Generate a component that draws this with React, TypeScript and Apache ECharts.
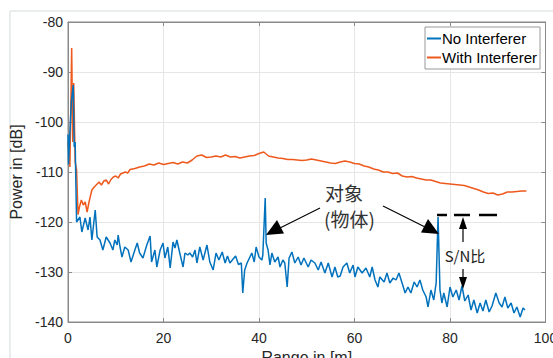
import React, { useEffect, useRef } from "react";
import * as echarts from "echarts";

const seriesNames = ["No Interferer", "With Interferer"];
const xTicks = [0, 20, 40, 60, 80, 100];
const yTicks = [-140, -130, -120, -110, -100, -90, -80];

const blueRange = [0, 0.1, 0.4, 0.7, 1.1, 1.3, 1.5, 1.7, 1.8, 2.5, 2.9, 3.6, 4.2, 4.6, 5.0, 5.7, 6.1, 6.7, 7.3, 8.0, 8.8, 9.4, 9.8, 10.3, 10.5, 10.9, 11.3, 11.9, 12.6, 13.2, 14, 14.5, 15, 15.7, 16.5, 17.2, 17.5, 18.2, 18.6, 19.3, 19.9, 20.3, 20.9, 21.4, 22, 22.4, 22.8, 23.5, 24.1, 24.5, 25.1, 25.5, 26.1, 26.6, 27, 27.6, 28.3, 29.1, 29.7, 30.4, 31, 31.6, 32.3, 32.9, 33.4, 33.9, 34.5, 35.1, 35.7, 36.3, 36.6, 37, 37.5, 38, 38.5, 39, 39.4, 40, 40.6, 40.8, 41.3, 41.5, 41.9, 42.3, 42.7, 43.3, 44, 44.4, 45, 45.4, 45.9, 46.3, 46.9, 47.5, 48.2, 48.8, 49.4, 50.3, 50.9, 51.7, 52.4, 53, 53.8, 54.5, 55.3, 55.9, 56.5, 57, 57.6, 58.4, 59, 59.7, 60.1, 60.7, 61.6, 62.4, 63.2, 63.7, 64.3, 64.9, 65.3, 66.2, 66.8, 67.4, 68.1, 68.7, 69.3, 69.9, 70.6, 71.2, 71.8, 72.5, 73.1, 73.7, 74.3, 75, 75.4, 76, 76.6, 77.1, 77.5, 77.9, 78.3, 78.7, 79.4, 80, 80.6, 81.3, 81.9, 82.5, 83.1, 83.8, 84.4, 85, 85.7, 86.3, 86.9, 87.5, 88.2, 88.8, 89.6, 90.3, 90.9, 91.5, 92.1, 92.8, 93.4, 94, 94.7, 95.3, 95.7];
const bluePower = [-102.5, -108.5, -102, -96, -92.6, -105, -104, -115, -120, -119, -122, -119.2, -121.6, -119, -123.6, -117.6, -123, -123.6, -125.6, -123, -124.2, -125.6, -123.6, -124.6, -122.6, -125, -127, -125, -125.6, -128, -125.6, -124.2, -126.2, -127.2, -124.6, -122.8, -128, -125.6, -129, -125.6, -124.2, -127.2, -125, -129.2, -124, -125.2, -123.6, -126.6, -129, -126.2, -126.6, -126.2, -127, -125.6, -128.2, -125, -127.6, -124.6, -128, -129.6, -126.2, -127.6, -126, -128.2, -126.8, -128.2, -127.5, -126.8, -128.5, -128.2, -134.2, -129.6, -128.2, -127.2, -126.2, -128, -125, -127, -127.6, -126.6, -115.2, -124.2, -125.6, -128.6, -126.2, -128, -127, -129, -127.6, -128.2, -133, -127.2, -126, -128.2, -127, -128.6, -127.2, -129, -127.6, -128.2, -129.6, -128, -130.2, -128.2, -131, -129, -131, -130.8, -129, -128.2, -130.2, -128.6, -131, -129, -130.2, -129.2, -131, -129, -131.6, -133, -131, -132, -130.2, -132.2, -131.2, -131.6, -130.2, -132, -134.2, -133, -134.2, -132, -133, -131.6, -133.6, -135, -137, -133.6, -135.6, -132.2, -119, -133.6, -136.2, -134.2, -137, -133, -135, -133.6, -135.6, -132.8, -135.8, -134.6, -137.6, -135.6, -138.2, -136.2, -137.8, -135.6, -138, -136.8, -134.2, -136.2, -137, -135, -137.2, -136.2, -138.2, -137, -139, -137.2, -137.6];

const orangeRange = [0, 0.4, 0.77, 1.0, 1.2, 1.5, 1.8, 2.1, 2.4, 2.8, 3.2, 3.6, 4.0, 4.4, 5.0, 5.5, 6.0, 6.5, 7.0, 7.5, 8.0, 8.5, 9.0, 9.5, 10.0, 10.5, 11.0, 12.0, 12.5, 13.0, 14, 15, 16, 17, 18, 19, 20, 21, 22, 23, 24, 25, 26, 27, 28, 29, 30, 31, 32, 33, 34, 35, 36, 37, 38, 39, 40, 41, 41.5, 42, 43, 44, 45, 46, 47, 48, 49, 50, 51, 52, 53, 54, 55, 56, 57, 58, 59, 60, 61, 62, 63, 64, 65, 66, 67, 68, 69, 70, 71, 72, 73, 74, 75, 76, 77, 78, 79, 80, 81, 82, 83, 84, 85, 86, 87, 88, 89, 90, 91, 92, 93, 94, 95, 96];
const orangePower = [-104, -109, -85.2, -104, -92.2, -108, -109.6, -118.5, -117, -115.6, -116.6, -116, -118, -116, -113.6, -113, -112.5, -112, -112.6, -111.8, -111.6, -112.4, -111.5, -111, -110.8, -111.2, -110.4, -110, -110.2, -109.5, -109.3, -109, -108.8, -108.4, -108.6, -108.2, -108.5, -108.3, -108.1, -108.4, -108, -108.2, -107.6, -106.8, -106.6, -107.1, -107, -106.8, -107, -106.6, -107, -106.9, -107.2, -107, -106.8, -106.7, -106.3, -106, -106.4, -106.8, -107, -107.2, -107.3, -107.5, -107.5, -107.6, -107.7, -107.6, -107.4, -107.6, -107.8, -108, -108.2, -108.3, -108, -107.8, -108, -108.3, -108.4, -108.8, -109, -109.4, -109.6, -110, -110, -110.3, -110.2, -110.8, -111, -110.9, -111.2, -111.4, -111.6, -111.6, -111.9, -112.2, -112.3, -112.4, -112.5, -112.6, -112.7, -113, -113.3, -113.6, -114, -114.3, -114.2, -114.6, -114.4, -114, -114, -113.9, -113.8, -113.8];

const objectLabel = "对象";
const objectLabel2 = "(物体)";
const snLabel = "S/N比";

const FONT = "'Liberation Sans', Arial, 'Noto Sans CJK SC', sans-serif";
const CJK = "'Noto Sans CJK SC', 'Liberation Sans', sans-serif";
const BLUE = "#0072BD";
const ORANGE = "#EE5A1E";
const AXIS = "#8a8a8a";

export default function App() {
  const ref = useRef<HTMLDivElement>(null);
  useEffect(() => {
    if (!ref.current) return;
    const chart = echarts.init(ref.current, undefined, { renderer: "svg" });
    const zip = (xs: number[], ys: number[]) => xs.map((x, i) => [x, ys[i]]);
    const axisBase = {
      type: "value" as const,
      min: xTicks[0],
      max: xTicks[xTicks.length - 1],
      interval: 20,
    };
    const black = "#000";
    chart.setOption({
      animation: false,
      backgroundColor: "#fff",
      textStyle: { fontFamily: FONT },
      grid: {
        left: 68,
        right: 7.5,
        top: 22,
        bottom: 36,
        outerBoundsMode: "none",
        containLabel: false,
        show: true,
        borderColor: AXIS,
        borderWidth: 1,
        backgroundColor: "transparent",
      },
      legend: {
        data: seriesNames,
        orient: "vertical",
        left: 425,
        top: 27,
        itemWidth: 14,
        itemHeight: 2,
        itemGap: 0,
        icon: "rect",
        padding: [2, 3, 2, 2],
        borderColor: "#999",
        borderWidth: 1,
        backgroundColor: "#fff",
        textStyle: { fontSize: 15, color: "#000", fontFamily: FONT, lineHeight: 19, padding: [0, 0, 0, -4] },
      },
      xAxis: [
        {
          ...axisBase,
          position: "bottom",
          name: "Range in [m]",
          nameLocation: "middle",
          nameGap: 24,
          nameTextStyle: { fontSize: 16, color: "#262626", fontFamily: FONT },
          axisLine: { show: true, onZero: false, lineStyle: { color: AXIS } },
          axisTick: { show: true, inside: true, length: 4, lineStyle: { color: AXIS } },
          axisLabel: { fontSize: 14, color: "#262626", margin: 9, fontFamily: FONT },
          splitLine: { show: true, lineStyle: { color: "#e6e6e6", width: 1 } },
        },
        {
          ...axisBase,
          position: "top",
          axisLine: { show: true, onZero: false, lineStyle: { color: AXIS } },
          axisTick: { show: true, inside: true, length: 4, lineStyle: { color: AXIS } },
          axisLabel: { show: false },
          splitLine: { show: false },
        },
      ],
      yAxis: [
        {
          type: "value",
          min: yTicks[0],
          max: yTicks[yTicks.length - 1],
          interval: 10,
          position: "left",
          name: "Power in [dB]",
          nameLocation: "middle",
          nameGap: 36,
          nameTextStyle: { fontSize: 16, color: "#262626", fontFamily: FONT },
          axisLine: { show: true, onZero: false, lineStyle: { color: AXIS } },
          axisTick: { show: true, inside: true, length: 4, lineStyle: { color: AXIS } },
          axisLabel: { fontSize: 14, color: "#262626", margin: 5, fontFamily: FONT },
          splitLine: { show: true, lineStyle: { color: "#e6e6e6", width: 1 } },
        },
        {
          type: "value",
          min: yTicks[0],
          max: yTicks[yTicks.length - 1],
          interval: 10,
          position: "right",
          axisLine: { show: true, onZero: false, lineStyle: { color: AXIS } },
          axisTick: { show: true, inside: true, length: 4, lineStyle: { color: AXIS } },
          axisLabel: { show: false },
          splitLine: { show: false },
        },
      ],
      series: [
        {
          name: seriesNames[0],
          type: "line",
          data: zip(blueRange, bluePower),
          showSymbol: false,
          color: BLUE,
          lineStyle: { width: 1.5, color: BLUE },
          z: 3,
        },
        {
          name: seriesNames[1],
          type: "line",
          data: zip(orangeRange, orangePower),
          showSymbol: false,
          color: ORANGE,
          lineStyle: { width: 1.5, color: ORANGE },
          z: 2,
        },
      ],
      graphic: [
        {
          type: "rect",
          z: -10,
          shape: { x: 10, y: 11, width: 600, height: 400 },
          style: { fill: "none", stroke: "#d3dbdb", lineWidth: 1 },
        },
        { type: "line", z: 50, shape: { x1: 320, y1: 208, x2: 278, y2: 229 }, style: { stroke: black, lineWidth: 1.2 } },
        { type: "polygon", z: 50, shape: { points: [[266, 235], [284, 233.5], [277, 220]] }, style: { fill: black } },
        { type: "line", z: 50, shape: { x1: 383, y1: 206, x2: 427, y2: 228 }, style: { stroke: black, lineWidth: 1.2 } },
        { type: "polygon", z: 50, shape: { points: [[439, 234], [421, 232.5], [428, 219]] }, style: { fill: black } },
        {
          type: "text", z: 50, x: 325, y: 192,
          style: { text: objectLabel, fontSize: 19, lineHeight: 22, fill: "#333", fontFamily: CJK, verticalAlign: "middle", align: "left" },
        },
        {
          type: "text", z: 50, x: 324, y: 218,
          style: { text: objectLabel2, fontSize: 19, lineHeight: 22, fill: "#333", fontFamily: CJK, verticalAlign: "middle", align: "left" },
        },
        { type: "line", z: 50, shape: { x1: 437, y1: 215, x2: 447, y2: 215 }, style: { stroke: black, lineWidth: 2.5 } },
        { type: "line", z: 50, shape: { x1: 454, y1: 215, x2: 470, y2: 215 }, style: { stroke: black, lineWidth: 2.5 } },
        { type: "line", z: 50, shape: { x1: 479, y1: 215, x2: 497, y2: 215 }, style: { stroke: black, lineWidth: 2.5 } },
        { type: "line", z: 50, shape: { x1: 463, y1: 224, x2: 463, y2: 242 }, style: { stroke: black, lineWidth: 1.2 } },
        { type: "polygon", z: 50, shape: { points: [[463, 217], [459, 229], [467, 229]] }, style: { fill: black } },
        { type: "line", z: 50, shape: { x1: 463, y1: 269, x2: 463, y2: 282 }, style: { stroke: black, lineWidth: 1.2 } },
        { type: "polygon", z: 50, shape: { points: [[463, 289], [459, 277], [467, 277]] }, style: { fill: black } },
        {
          type: "text", z: 50, x: 465, y: 255,
          style: { text: snLabel, fontSize: 15, fill: "#222", fontFamily: CJK, verticalAlign: "middle", align: "center" },
        },
      ],
    });
    return () => chart.dispose();
  }, []);
  return <div ref={ref} style={{ width: 553, height: 358, position: "absolute", left: 0, top: 0 }} />;
}
